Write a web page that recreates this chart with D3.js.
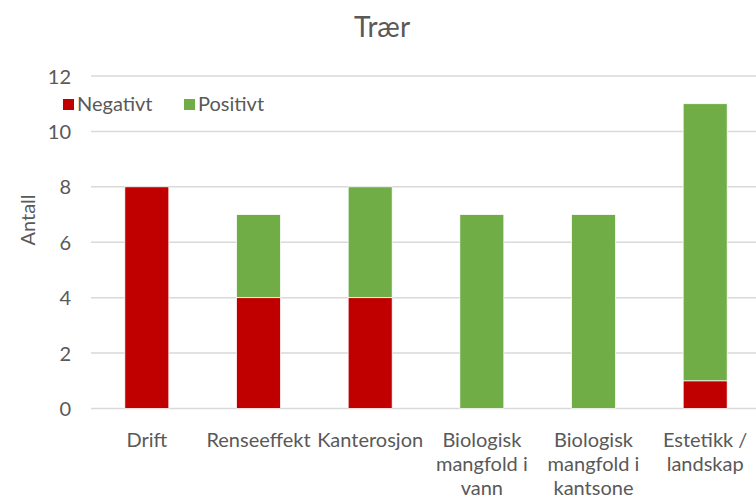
<!DOCTYPE html>
<html>
<head>
<meta charset="utf-8">
<script src="https://cdn.jsdelivr.net/npm/d3@7"></script>
<style>
  html, body { margin: 0; padding: 0; background: #fff; }
  svg text { font-family: Lato, "Open Sans", sans-serif; fill: #595959; }
</style>
</head>
<body>
<div id="chart"></div>
<script>
// Stacked column chart "Trær": counts of negative / positive answers per theme.
var categories = ['Drift', 'Renseeffekt', 'Kanterosjon', 'Biologisk mangfold i vann',
                  'Biologisk mangfold i kantsone', 'Estetikk / landskap']
var negativt = [8, 4, 4, 0, 0, 1]
var positivt = [0, 3, 4, 7, 7, 10]
var yTicks = [0, 2, 4, 6, 8, 10, 12]
var seriesNames = ['Negativt', 'Positivt']
var seriesColors = ['#C00000', '#70AD47']

var W = 756, H = 503
var svg = d3.select('#chart').append('svg').attr('width', W).attr('height', H)

var x = d3.scaleBand().domain(categories).range([91, 761]).paddingInner(0.606).paddingOuter(0.303)
var y = d3.scaleLinear().domain([0, 12]).range([408.5, 76])

// gridlines
svg.selectAll('line.grid').data(yTicks).join('line')
  .attr('x1', 91).attr('x2', W)
  .attr('y1', y).attr('y2', y)
  .attr('stroke', '#D9D9D9').attr('stroke-width', 1.5)

// stacks
var rows = categories.map(function(c, i){ return {cat: c, Negativt: negativt[i], Positivt: positivt[i]} })
var stacked = d3.stack().keys(seriesNames)(rows)
stacked.forEach(function(s, si){
  svg.append('g').selectAll('rect').data(s.filter(function(d){ return d[1] > d[0] })).join('rect')
    .attr('x', function(d){ return x(d.data.cat) })
    .attr('width', x.bandwidth())
    .attr('y', function(d){ return y(d[1]) })
    .attr('height', function(d){ return y(d[0]) - y(d[1]) })
    .attr('fill', seriesColors[si])
    .attr('stroke', '#fff').attr('stroke-width', 0.75)
})

// y axis (labels only)
var yAxis = svg.append('g').attr('transform', 'translate(71,0)')
  .call(d3.axisLeft(y).tickValues(yTicks).tickSize(0).tickPadding(0))
yAxis.select('.domain').remove()
yAxis.selectAll('text').attr('font-size', 20).attr('fill', '#595959')
  .style('font-family', 'Lato, sans-serif').attr('dy', '0.35em')

// x axis labels, wrapped to the band
var xAxis = svg.append('g').attr('transform', 'translate(0,408.5)')
  .call(d3.axisBottom(x).tickSize(0).tickPadding(0))
xAxis.select('.domain').remove()
xAxis.selectAll('text').each(function(d){
  var t = d3.select(this).text(null).attr('y', 0).attr('dy', null)
    .attr('font-size', 20).attr('fill', '#595959').style('font-family', 'Lato, sans-serif')
  var words = d.split(' '), line = [], lines = []
  var probe = svg.append('text').attr('font-size', 20)
  words.forEach(function(w){
    var trial = line.concat(w).join(' ')
    probe.text(trial)
    if (line.length && probe.node().getComputedTextLength() > 100) { lines.push(line.join(' ')); line = [w] }
    else line.push(w)
  })
  lines.push(line.join(' '))
  probe.remove()
  lines.forEach(function(l, i){
    t.append('tspan').attr('x', 0).attr('y', 38.5 + i * 24).text(l)
  })
})

// y axis title
svg.append('text').text('Antall')
  .attr('transform', 'translate(35,220) rotate(-90)')
  .attr('text-anchor', 'middle').attr('font-size', 20)

// title
svg.append('text').text('Trær')
  .attr('x', 382).attr('y', 37).attr('text-anchor', 'middle').attr('font-size', 28)

// legend
var lx = [63, 184]
seriesNames.forEach(function(n, i){
  svg.append('rect').attr('x', lx[i]).attr('y', 99).attr('width', 11).attr('height', 11).attr('fill', seriesColors[i])
  svg.append('text').text(n).attr('x', lx[i] + 14).attr('y', 111).attr('font-size', 20)
})
</script>
</body>
</html>
